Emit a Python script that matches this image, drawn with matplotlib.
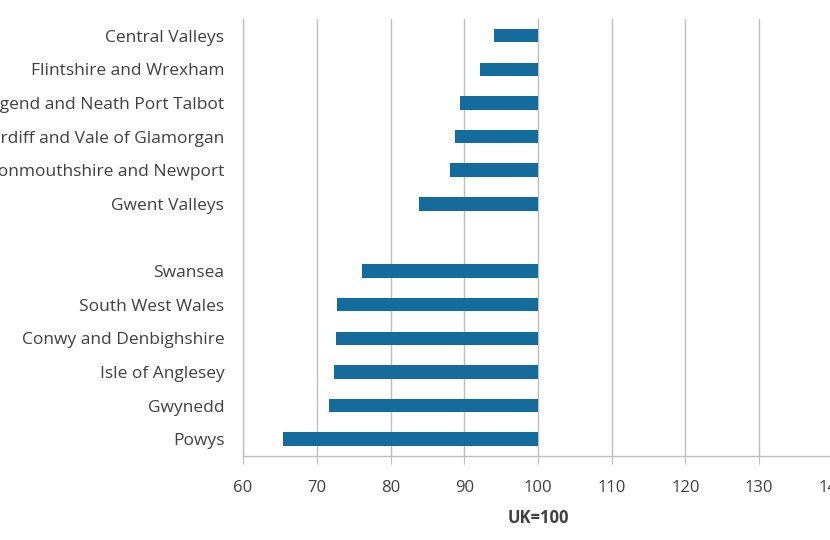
import numpy as np
import matplotlib

matplotlib.use("Agg")

import matplotlib.pyplot as plt


regions = [
    "Central Valleys",
    "Flintshire and Wrexham",
    "Bridgend and Neath Port Talbot",
    "Cardiff and Vale of Glamorgan",
    "Monmouthshire and Newport",
    "Gwent Valleys",
    "",
    "Swansea",
    "South West Wales",
    "Conwy and Denbighshire",
    "Isle of Anglesey",
    "Gwynedd",
    "Powys",
]
index_values = [94.1, 92.2, 89.4, 88.8, 88.1, 83.9, np.nan, 76.2, 72.8, 72.6, 72.3, 71.7, 65.4]
baseline = 100
x_ticks = [60, 70, 80, 90, 100, 110, 120, 130, 140]

bar_color = "#146c9c"
grid_color = "#bfbfbf"
text_color = "#404040"

plt.rcParams.update({"font.family": ["Open Sans", "DejaVu Sans"], "font.size": 12.5})

fig = plt.figure(figsize=(8.3, 5.4), dpi=100)
ax = fig.add_axes([0.2928, 0.1556, 0.7108, 0.8094])

n = len(regions)
ypos = np.arange(n)[::-1]
vals = np.array(index_values, dtype=float)
mask = ~np.isnan(vals)
ax.barh(ypos[mask], baseline - vals[mask], left=vals[mask], height=0.4,
        color=bar_color, zorder=3)

ax.set_ylim(-0.5, n - 0.5)
ax.set_xlim(60, 140)
ax.set_xticks(x_ticks)
ax.set_xticklabels([str(t) for t in x_ticks], color=text_color)
ax.set_yticks(ypos)
ax.set_yticklabels(regions, color=text_color)
ax.tick_params(axis="y", length=0, pad=13.5)
ax.tick_params(axis="x", length=6, color=grid_color, pad=11, labelsize=12)

ax.grid(axis="x", color=grid_color, lw=1.0, zorder=0)
for side in ["top", "right"]:
    ax.spines[side].set_visible(False)
for side in ["left", "bottom"]:
    ax.spines[side].set_color(grid_color)
    ax.spines[side].set_linewidth(1.0)

ax.set_xlabel("UK=100", fontweight="bold", color=text_color, labelpad=10, fontsize=12)

fig.savefig("out.png", dpi=100)
